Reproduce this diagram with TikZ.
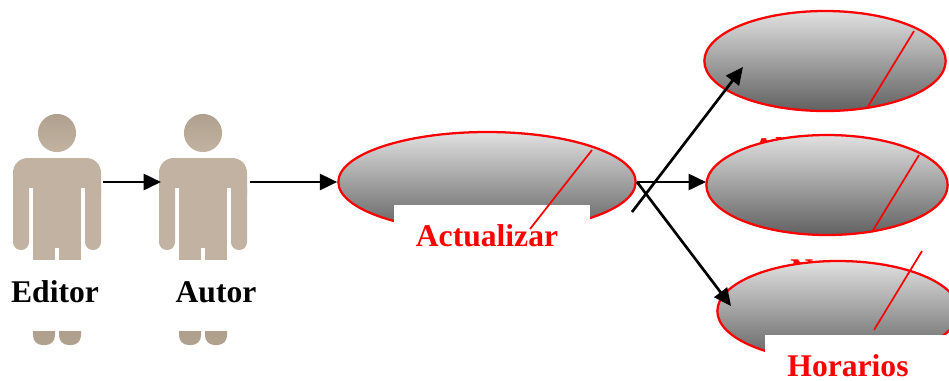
\documentclass[tikz,border=0pt]{standalone}
\usepackage{fontspec}
\setmainfont{Liberation Serif}
\usetikzlibrary{shapes.geometric, arrows.meta}
\definecolor{skin}{HTML}{C2B2A1}
\definecolor{skindark}{HTML}{B0A08E}
\begin{document}
\begin{tikzpicture}[
    x=0.75pt, y=-0.75pt,
    usecase/.style={ellipse, draw=red, line width=1.7pt, top color=black!12, bottom color=black!62, minimum width=181pt, minimum height=75pt, inner sep=0pt},
    slash/.style={draw=red, line width=1.3pt},
    label/.style={font=\fontsize{23.7}{28}\selectfont\bfseries, inner sep=0pt},
    redlabel/.style={label, text=red},
    flow/.style={line width=2pt, -{Triangle[length=13pt, width=12pt]}},
    pics/person/.style={code={
        \shade[top color=skindark, bottom color=skin] (0,-1) circle[radius=14.3pt];
        \fill[skin] (-44,60) [rounded corners=11pt] -- (-44,24) -- (44,24) [sharp corners] -- (44,60) -- cycle;
        \fill[white] (-28,54) rectangle (-24,70);
        \fill[white] (24,54) rectangle (28,70);
        \fill[skin, rounded corners=5.9pt] (-44,45) rectangle (-28,116);
        \fill[skin, rounded corners=5.9pt] (28,45) rectangle (44,116);
        \fill[skin] (-24,50) rectangle (24,126);
        \fill[white] (-2,114) rectangle (2,127);
        \fill[skindark] (-24,197) [rounded corners=7pt] -- (-24,211) -- (-2,211) [sharp corners] -- (-2,197) -- cycle;
        \fill[skindark] (2,197) [rounded corners=7pt] -- (2,211) -- (24,211) [sharp corners] -- (24,197) -- cycle;
    }}
]
\useasboundingbox (0,0) rectangle (949,380);

% Actors
\pic at (57,134) {person};
\pic at (203,134) {person};
\node[label] (editor) at (55,292) {Editor};
\node[label] (autor) at (216,292) {Autor};
\coordinate (editorhand) at (103,182);
\coordinate (autorfoot) at (161,182);
\coordinate (autorhand) at (250,182);

% Labels hidden behind the ellipses
\node[redlabel, anchor=base west] (al) at (752,159) {Al};
\node[redlabel, anchor=base west] (nu) at (790,280) {N};

% Use cases
\node[usecase, minimum width=223pt] (update) at (487,182) {};
\node[usecase] (top) at (825,61) {};
\node[usecase] (mid) at (827,185) {};
\node[usecase] (low) at (838,311) {};

% White boxes over the ellipses
\fill[white] (394,205) rectangle (590,260);
\fill[white] (765,335) rectangle (949,380);

% Slashes
\draw[slash] (592,150) -- (530,229);
\draw[slash] (914,31) -- (867,108);
\draw[slash] (919,155) -- (872,232);
\draw[slash] (922,251) -- (874,330);

\node[redlabel] (actualizar) at (487,236) {Actualizar};
\node[redlabel] (horarios) at (848,366) {Horarios};

% Arrows
\coordinate (fork) at (637,182);
\coordinate (forklow) at (632,212);
\coordinate (midtip) at (706,182);
\draw[flow] (editorhand) -- (autorfoot);
\draw[flow] (autorhand) -- (update.west);
\draw[flow] (forklow) -- (743,67);
\draw[flow] (fork) -- (midtip);
\draw[flow] (fork) -- (731,306);

\end{tikzpicture}
\end{document}
